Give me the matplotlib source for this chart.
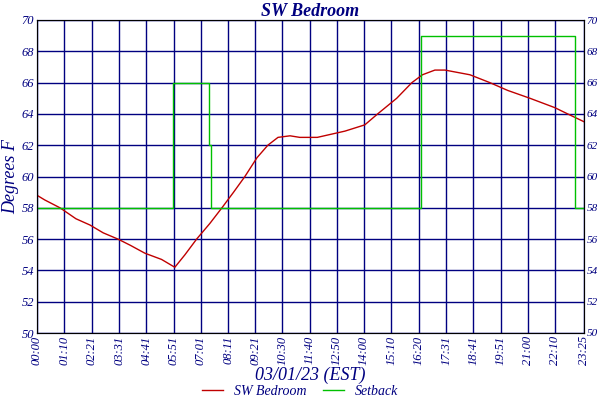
import matplotlib
matplotlib.use("Agg")
from matplotlib import pyplot as plt

NAVY = "#000080"

# minutes after midnight
temp_t = [0, 20, 59, 100, 136, 170, 208, 240, 277, 320, 354, 380, 410, 444, 475, 505, 534,
          565, 593, 619, 650, 675, 720, 791, 842, 875, 924, 963, 990, 1022, 1048, 1112,
          1163, 1209, 1266, 1330, 1363, 1405]
temp_v = [58.8, 58.5, 58.0, 57.3, 56.9, 56.4, 56.0, 55.6, 55.1, 54.7, 54.2, 55.0, 56.0,
          57.0, 58.0, 59.0, 60.0, 61.2, 62.0, 62.5, 62.6, 62.5, 62.5, 62.9, 63.3, 64.0, 65.0,
          66.0, 66.5, 66.8, 66.8, 66.5, 66.0, 65.5, 65.0, 64.4, 64.0, 63.5]

set_t = [0, 349, 349, 441, 441, 446, 446, 986, 986, 1381, 1381, 1405]
set_v = [58, 58, 66, 66, 62, 62, 58, 58, 69, 69, 58, 58]

tick_t = [0, 70, 141, 211, 281, 351, 421, 491, 561, 630, 700, 770, 840, 910, 980,
          1051, 1121, 1191, 1260, 1330, 1405]
tick_lbl = ["%02d:%02d" % (t // 60, t % 60) for t in tick_t]

plt.rcParams["font.family"] = "Liberation Serif"
fig = plt.figure(figsize=(6, 4), dpi=100)
ax = fig.add_axes([37 / 600, 1 - 333 / 400, 547 / 600, 313 / 400])

ax.plot(temp_t, temp_v, color="#c00000", lw=1, label="SW Bedroom")
ax.plot(set_t, set_v, color="#00c000", lw=1, label="Setback")

ax.set_xlim(0, 1405)
ax.set_ylim(50, 70)
ax.set_yticks(range(50, 71, 2))
ax.set_xticks(tick_t)
ax.set_xticklabels(tick_lbl, rotation=90, fontsize=9, style="italic", color=NAVY)
ax.tick_params(axis="y", labelsize=9, labelcolor=NAVY, length=0, pad=2)
ax.tick_params(axis="x", length=0, pad=2)
for lb in ax.get_yticklabels():
    lb.set_style("italic")
ax.grid(True, color=NAVY, lw=1)
for s in ax.spines.values():
    s.set_color(NAVY)

ax2 = ax.twinx()
ax2.set_ylim(50, 70)
ax2.set_yticks(range(50, 71, 2))
ax2.tick_params(axis="y", labelsize=8, labelcolor=NAVY, length=0, pad=2)
for lb in ax2.get_yticklabels():
    lb.set_style("italic")

ax.set_title("SW Bedroom", fontsize=13, style="italic", weight="bold", color=NAVY, pad=3)
ax.set_ylabel("Degrees F", fontsize=13, style="italic", color=NAVY, labelpad=2)
ax.set_xlabel("03/01/23 (EST)", fontsize=13, style="italic", color=NAVY, labelpad=1)
fig.legend(*ax.get_legend_handles_labels(), loc="center", bbox_to_anchor=(0.5, 0.022),
           ncol=2, frameon=False, prop={"size": 10, "style": "italic"}, labelcolor=NAVY,
           handlelength=1.5, columnspacing=1.2)

fig.savefig("out.png")
